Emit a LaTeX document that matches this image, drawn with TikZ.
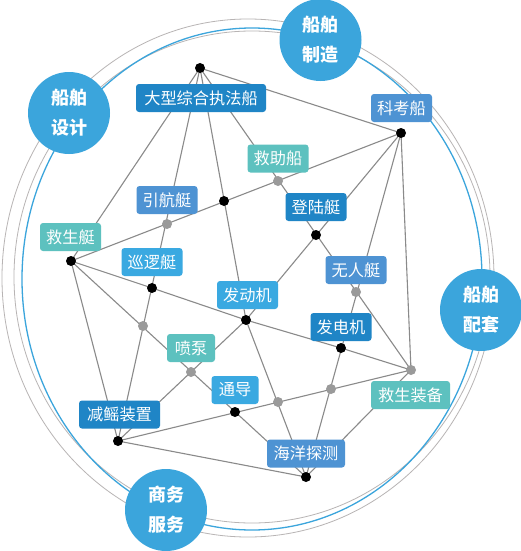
\documentclass[tikz,border=0pt]{standalone}
\usepackage{fontspec}
\newfontfamily\cjk{Noto Sans CJK SC}
\definecolor{dblue}{HTML}{1F85C6}
\definecolor{mblue}{HTML}{4E93D3}
\definecolor{lblue}{HTML}{3AA9E1}
\definecolor{tealc}{HTML}{5DC1BF}
\definecolor{circc}{HTML}{3BA5DC}
\definecolor{edgec}{HTML}{8A8A8A}
\definecolor{dotg}{HTML}{9A9A9A}
\definecolor{ringg}{HTML}{B8B4B4}
\tikzset{
  lbl/.style={rounded corners=3pt, fill=#1, text=white, minimum height=28pt, inner sep=0pt,
    font=\cjk\fontsize{16.2}{16.2}\selectfont},
  bigc/.style={circle, fill=circc, minimum size=82pt, inner sep=0pt, text=white, align=center,
    font=\cjk\bfseries\fontsize{18}{30}\selectfont},
  bdot/.style={circle, fill=black, minimum size=10pt, inner sep=0pt},
  gdot/.style={circle, fill=dotg, minimum size=10pt, inner sep=0pt},
  edge/.style={draw=edgec, line width=1.1pt},
}
\begin{document}
\begin{tikzpicture}[x=1pt,y=-1pt]
\useasboundingbox (0,0) rectangle (520,551);
\fill[white] (0,0) rectangle (520,551);
% rings
\draw[ringg, line width=0.8pt] (248,278) ellipse [x radius=246, y radius=259];
\draw[ringg, line width=0.8pt] (252,277) ellipse [x radius=238, y radius=246];
\draw[circc, line width=1.3pt] (252,279) ellipse [x radius=230, y radius=251];
% points
\coordinate (p1) at (200,68);
\coordinate (p2) at (401,133);
\coordinate (p3) at (224,201);
\coordinate (p4) at (278,181);
\coordinate (p5) at (167,224);
\coordinate (p6) at (71,261);
\coordinate (p7) at (316,235);
\coordinate (p8) at (152,288);
\coordinate (p9) at (356,292);
\coordinate (p10) at (143,326);
\coordinate (p11) at (246,320);
\coordinate (p12) at (341,348);
\coordinate (p13) at (191,372);
\coordinate (p14) at (411,370);
\coordinate (p15) at (331,389);
\coordinate (p16) at (278,402);
\coordinate (p17) at (235,412);
\coordinate (p18) at (118,441);
\coordinate (p19) at (306,477);
% connectors
\path[edge] (p1) -- (p14);
\path[edge] (p2) -- (p6);
\path[edge] (p1) -- (p11);
\path[edge] (p11) -- (p19);
\path[edge] (p1) -- (p18);
\path[edge] (p1) -- (p6);
\path[edge] (p6) -- (p18);
\path[edge] (p6) -- (p8) -- (p11) -- (p12) -- (p14);
\path[edge] (p6) -- (p19);
\path[edge] (p18) -- (p11);
\path[edge] (p2) -- (p11);
\path[edge] (p2) -- (p19);
\path[edge] (p2) -- (p14);
\path[edge] (p14) -- (p19);
\path[edge] (p18) -- (p14);
\path[edge] (p18) -- (p19);
\path[edge] (p1) -- (p2);
% labels
\node[lbl=dblue, minimum width=130pt] (n1) at (201,98) {大型综合执法船};
\node[lbl=mblue, minimum width=61pt] (n2) at (401.5,108) {科考船};
\node[lbl=tealc, minimum width=61pt] (n3) at (278,158.5) {救助船};
\node[lbl=mblue, minimum width=61pt] (n4) at (167,200) {引航艇};
\node[lbl=dblue, minimum width=61pt] (n5) at (316,207) {登陆艇};
\node[lbl=tealc, minimum width=61pt] (n6) at (70.5,237) {救生艇};
\node[lbl=lblue, minimum width=61pt] (n7) at (152,262) {巡逻艇};
\node[lbl=mblue, minimum width=61pt] (n8) at (356,270) {无人艇};
\node[lbl=lblue, minimum width=61pt] (n9) at (247.5,295) {发动机};
\node[lbl=dblue, minimum width=61pt] (n10) at (341,327) {发电机};
\node[lbl=tealc, minimum width=48pt] (n11) at (191,348) {喷泵};
\node[lbl=lblue, minimum width=47pt] (n12) at (235,390) {通导};
\node[lbl=dblue, minimum width=81pt] (n13) at (119.5,414.5) {减鳐装置};
\node[lbl=tealc, minimum width=79pt] (n14) at (410.5,395) {救生装备};
\node[lbl=mblue, minimum width=78pt] (n15) at (306,453.5) {海洋探测};
% dots
\foreach \p in {p1,p2,p3,p6,p7,p8,p11,p12,p17,p18,p19}
  \node[bdot] (d\p) at (\p) {};
\foreach \p in {p4,p5,p9,p10,p13,p14,p15,p16}
  \node[gdot] (d\p) at (\p) {};
% big circles
\node[bigc] (c1) at (69,113) {船舶\\设计};
\node[bigc] (c2) at (320.5,40) {船舶\\制造};
\node[bigc] (c3) at (481,310) {船舶\\配套};
\node[bigc] (c4) at (166,510) {商务\\服务};
\end{tikzpicture}
\end{document}
